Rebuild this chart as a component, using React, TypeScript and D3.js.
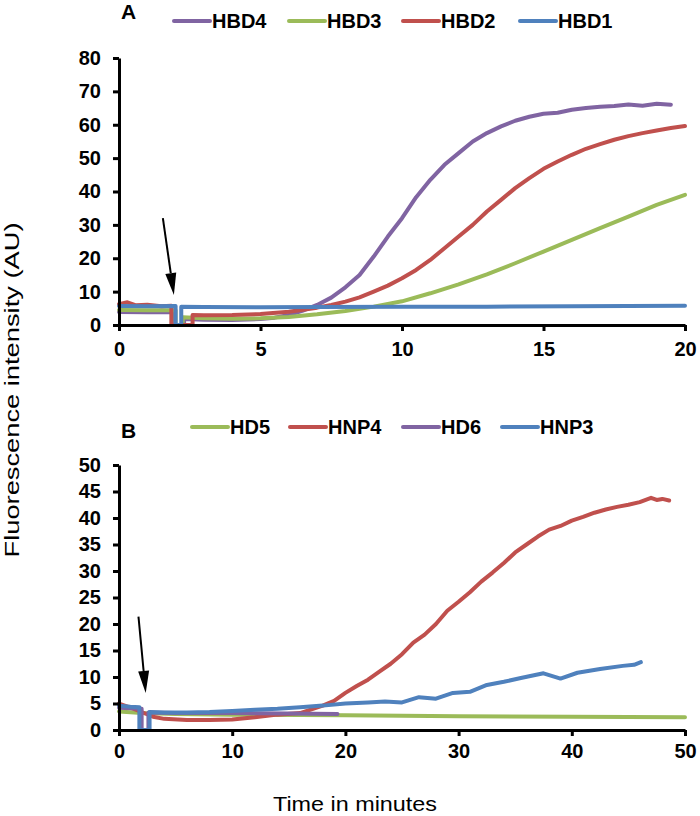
import { useEffect, useRef } from 'react'
import * as d3 from 'd3'

type Pt = [number, number]

// Panel A - beta defensins, time 0-20 min
const hbd4: Pt[] = [
  [0, 3.9], [1, 3.8], [1.95, 3.8], [1.95, 0], [2.3, 0], [2.3, 1.8], [3, 1.6], [4, 1.5],
  [5, 1.8], [5.5, 2.2], [6, 3], [6.5, 4.3], [7, 6], [7.5, 8.2], [8, 11.3], [8.5, 15],
  [9, 20.5], [9.5, 26.5], [10, 32], [10.5, 38.3], [11, 43.5], [11.5, 48], [12, 51.5],
  [12.5, 55], [13, 57.5], [13.5, 59.5], [14, 61.2], [14.5, 62.4], [15, 63.3], [15.5, 63.6],
  [16, 64.5], [16.5, 65], [17, 65.4], [17.5, 65.6], [18, 66.1], [18.5, 65.7], [19, 66.3], [19.5, 66]
]
const hbd3: Pt[] = [
  [0, 4.5], [1, 4.4], [2, 4.4], [2, 0], [2.25, 0], [2.25, 2.3], [3, 2], [4, 1.9], [5, 2],
  [6, 2.4], [7, 3.2], [8, 4.2], [9, 5.5], [10, 7.1], [11, 9.5], [12, 12.2], [13, 15.2],
  [14, 18.5], [15, 22], [16, 25.5], [17, 29], [18, 32.5], [19, 36], [20, 39]
]
const hbd2: Pt[] = [
  [0, 6.2], [0.3, 6.8], [0.6, 5.9], [1, 6.1], [1.5, 5.6], [1.85, 5.8], [1.85, 0], [2.6, 0],
  [2.6, 3], [3, 2.9], [4, 3], [5, 3.3], [6, 4], [7, 5.2], [7.5, 6], [8, 7], [8.5, 8.3],
  [9, 10], [9.5, 11.8], [10, 14], [10.5, 16.5], [11, 19.5], [11.5, 23], [12, 26.5],
  [12.5, 30], [13, 34], [13.5, 37.5], [14, 41], [14.5, 44], [15, 46.8], [15.5, 49],
  [16, 51], [16.5, 52.8], [17, 54.2], [17.5, 55.5], [18, 56.6], [18.5, 57.5], [19, 58.3],
  [19.5, 59], [20, 59.6]
]
const hbd1: Pt[] = [
  [0, 5.7], [1, 5.6], [2, 5.7], [2, 0], [2.2, 0], [2.2, 5.5], [3, 5.4], [5, 5.3], [7, 5.4],
  [10, 5.5], [13, 5.5], [16, 5.6], [20, 5.8]
]

// Panel B - alpha defensins, time 0-50 min
const hd5: Pt[] = [
  [0, 3.5], [2, 3.2], [5, 3], [10, 2.9], [20, 2.8], [30, 2.6], [40, 2.5], [50, 2.4]
]
const hnp4: Pt[] = [
  [0, 5], [1, 4.2], [2, 3.4], [3, 2.5], [4, 2.1], [6, 1.9], [8, 1.9], [10, 2], [12, 2.4],
  [14, 2.9], [16, 3.2], [18, 4.6], [19, 5.5], [20, 7], [21, 8.3], [22, 9.5], [23, 11],
  [24, 12.5], [25, 14.3], [26, 16.5], [27, 18], [28, 20], [29, 22.5], [30, 24.2], [31, 26],
  [32, 28], [33, 29.7], [34, 31.5], [35, 33.5], [36, 35], [37, 36.5], [38, 37.8], [39, 38.5],
  [40, 39.5], [41, 40.2], [42, 41], [43, 41.6], [44, 42.1], [45, 42.5], [46, 43], [47, 43.8],
  [47.5, 43.4], [48, 43.6], [48.6, 43.3]
]
const hd6: Pt[] = [
  [0, 4.2], [2, 4], [2, 0], [2.6, 0], [2.6, 3.3], [5, 3.2], [10, 3.2], [15, 3.1], [19.3, 3]
]
const hnp3: Pt[] = [
  [0, 4.6], [1, 4.4], [1.8, 4.3], [1.8, 0], [2.7, 0], [2.7, 3.4], [4, 3.3], [6, 3.3],
  [8, 3.4], [10, 3.6], [12, 3.8], [14, 4], [16, 4.3], [18, 4.6], [20, 5], [22, 5.2],
  [23.5, 5.4], [25, 5.2], [26.5, 6.2], [28, 5.9], [29.5, 7], [31, 7.2], [32.5, 8.5],
  [34, 9.1], [35.5, 9.8], [37.5, 10.7], [39, 9.7], [40.5, 10.8], [42.5, 11.5], [44.5, 12.1],
  [45.5, 12.3], [46.1, 12.8]
]

const namesA = ['HBD4', 'HBD3', 'HBD2', 'HBD1']
const namesB = ['HD5', 'HNP4', 'HD6', 'HNP3']
const colorsA = ['#8064A2', '#9BBB59', '#C0504D', '#4F81BD']
const colorsB = ['#9BBB59', '#C0504D', '#8064A2', '#4F81BD']

const xTicksA = [0, 5, 10, 15, 20]
const yTicksA = [0, 10, 20, 30, 40, 50, 60, 70, 80]
const xTicksB = [0, 10, 20, 30, 40, 50]
const yTicksB = [0, 5, 10, 15, 20, 25, 30, 35, 40, 45, 50]

// injection arrows (tail, tip) in data units
const arrowA: Pt[] = [[1.55, 32], [1.94, 9]]
const arrowB: Pt[] = [[1.72, 21.4], [2.36, 7]]

const FONT = "'Liberation Sans', Arial, sans-serif"

export default function App() {
  const svgRef = useRef<SVGSVGElement>(null)

  useEffect(() => {
    if (!svgRef.current) return
    const svg = d3.select(svgRef.current)
    svg.selectAll('*').remove()

    const panels = [
      {
        letter: 'A', top: 58, bottom: 325, xMax: 20, yMax: 80,
        xTicks: xTicksA, yTicks: yTicksA, xPad: 11,
        series: [hbd4, hbd3, hbd2, hbd1], names: namesA, colors: colorsA,
        legendY: 21, legendX: [174, 289, 403, 520], arrow: arrowA, letterY: 19
      },
      {
        letter: 'B', top: 465, bottom: 730, xMax: 50, yMax: 50,
        xTicks: xTicksB, yTicks: yTicksB, xPad: 8,
        series: [hd5, hnp4, hd6, hnp3], names: namesB, colors: colorsB,
        legendY: 427, legendX: [192, 290, 403, 502], arrow: arrowB, letterY: 438
      }
    ]

    panels.forEach((p) => {
      const x = d3.scaleLinear().domain([0, p.xMax]).range([119, 685])
      const y = d3.scaleLinear().domain([0, p.yMax]).range([p.bottom, p.top])

      const line = d3.line<Pt>().x((d) => x(d[0])).y((d) => y(d[1]))

      // Data lines
      p.series.forEach((s, i) => {
        svg.append('path')
          .attr('d', line(s))
          .attr('fill', 'none')
          .attr('stroke', p.colors[i])
          .attr('stroke-width', 4)
          .attr('stroke-linejoin', 'round')
          .attr('stroke-linecap', 'round')
      })

      // Axes
      const yAxis = svg.append('g')
        .attr('transform', 'translate(119,0)')
        .call(d3.axisLeft(y).tickValues(p.yTicks).tickSize(6).tickSizeOuter(0).tickPadding(12))
      const xAxis = svg.append('g')
        .attr('transform', `translate(0,${p.bottom})`)
        .call(d3.axisBottom(x).tickValues(p.xTicks).tickSize(6).tickSizeOuter(0).tickPadding(p.xPad))

      ;[yAxis, xAxis].forEach((ax) => {
        ax.select('.domain').attr('stroke', '#000').attr('stroke-width', 3)
        ax.selectAll('.tick line').attr('stroke', '#000').attr('stroke-width', 3)
        ax.selectAll('.tick text')
          .attr('fill', '#000')
          .style('font-family', FONT)
          .style('font-weight', 'bold')
          .style('font-size', '20px')
      })

      // Arrow
      const [t0, t1] = p.arrow
      const x0 = x(t0[0]), y0 = y(t0[1]), x1 = x(t1[0]), y1 = y(t1[1])
      const len = Math.hypot(x1 - x0, y1 - y0)
      const ux = (x1 - x0) / len, uy = (y1 - y0) / len
      const hl = 22, hw = 5.5
      const bx = x1 - ux * hl, by = y1 - uy * hl
      svg.append('line')
        .attr('x1', x0).attr('y1', y0).attr('x2', bx).attr('y2', by)
        .attr('stroke', '#000').attr('stroke-width', 2)
      svg.append('polygon')
        .attr('points', `${x1},${y1} ${bx - uy * hw},${by + ux * hw} ${bx + uy * hw},${by - ux * hw}`)
        .attr('fill', '#000')

      // Panel letter
      svg.append('text')
        .attr('x', 121).attr('y', p.letterY)
        .text(p.letter)
        .style('font-family', FONT).style('font-weight', 'bold').style('font-size', '21px')

      // Legend
      p.names.forEach((name, i) => {
        const lx = p.legendX[i]
        svg.append('line')
          .attr('x1', lx).attr('x2', lx + 36)
          .attr('y1', p.legendY).attr('y2', p.legendY)
          .attr('stroke', p.colors[i]).attr('stroke-width', 4).attr('stroke-linecap', 'round')
        svg.append('text')
          .attr('x', lx + 38).attr('y', p.legendY + 7)
          .text(name)
          .style('font-family', FONT).style('font-weight', 'bold').style('font-size', '20px')
      })
    })

    // Axis titles
    svg.append('text')
      .attr('transform', 'translate(19,390) rotate(-90)')
      .attr('text-anchor', 'middle')
      .attr('textLength', 335)
      .attr('lengthAdjust', 'spacingAndGlyphs')
      .text('Fluorescence intensity (AU)')
      .style('font-family', FONT).style('font-size', '21px')

    svg.append('text')
      .attr('x', 355).attr('y', 811)
      .attr('text-anchor', 'middle')
      .attr('textLength', 164)
      .attr('lengthAdjust', 'spacingAndGlyphs')
      .text('Time in minutes')
      .style('font-family', FONT).style('font-size', '21px')
  }, [])

  return (
    <div style={{ position: 'absolute', left: 0, top: 0, background: '#fff' }}>
      <svg ref={svgRef} width={700} height={816} />
    </div>
  )
}
